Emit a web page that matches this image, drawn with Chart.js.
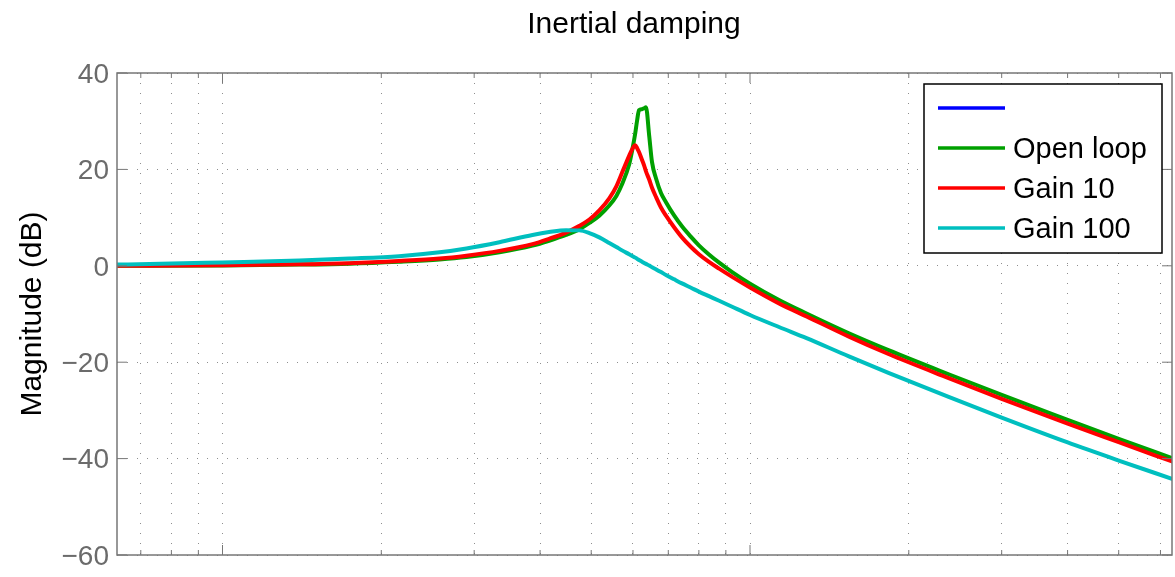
<!DOCTYPE html>
<html>
<head>
<meta charset="utf-8">
<script src="https://cdn.jsdelivr.net/npm/chart.js@4.4.1/dist/chart.umd.min.js"></script>
<style>
  html, body { margin: 0; padding: 0; background: #ffffff; }
  #wrap { width: 1175px; height: 577px; }
</style>
</head>
<body>
<div id="wrap"><canvas id="c" width="1175" height="577"></canvas></div>
<script>
// ---- data ----
const frequency = [0.631, 0.727, 1.0, 1.4, 1.74, 2.16, 2.58, 2.9, 3.35, 3.87,
  4.16, 4.48, 4.75, 4.96, 5.18, 5.41, 5.58, 5.72, 5.9, 5.98,
  6.06, 6.11, 6.16, 6.24, 6.3, 6.35, 6.44, 6.52, 6.64, 6.78,
  6.93, 7.18, 7.43, 7.73, 8.0, 8.36, 8.74, 9.25, 10, 11.35,
  12.8, 15.4, 18.3, 23.8, 30, 39.9, 50, 63.1];

const openLoop = [0.0, 0.0, 0.05, 0.25, 0.45, 0.85, 1.3, 1.8, 2.8, 4.2,
  5.2, 6.4, 7.6, 8.9, 10.4, 12.5, 14.5, 16.9, 21.0, 24.0,
  27.5, 30.2, 32.3, 32.5, 32.7, 32.9, 27.0, 21.5, 18.0, 15.1,
  13.2, 10.45, 8.2, 6.0, 4.25, 2.35, 0.65, -1.3, -3.7, -7.1,
  -9.9, -14.0, -17.5, -22.5, -26.8, -31.9, -35.9, -39.9];

const gain10 = [0.0, 0.0, 0.1, 0.3, 0.55, 1.0, 1.5, 2.1, 3.1, 4.5,
  5.6, 6.9, 8.3, 9.6, 11.5, 14.0, 16.5, 19.3, 22.8, 24.2,
  25.0, 24.4, 23.6, 22.0, 20.8, 19.6, 17.9, 16.2, 14.2, 12.1,
  10.4, 8.0, 5.9, 3.9, 2.4, 0.8, -0.6, -2.3, -4.5, -7.8,
  -10.5, -14.7, -18.3, -23.3, -27.6, -32.7, -36.6, -40.6];

const gain100 = [0.25, 0.35, 0.7, 1.1, 1.5, 2.0, 2.8, 3.6, 4.9, 6.4,
  7.0, 7.4, 7.35, 6.8, 5.9, 4.75, 3.9, 3.2, 2.4, 2.05,
  1.7, 1.45, 1.2, 0.85, 0.6, 0.4, 0.05, -0.3, -0.75, -1.3,
  -1.9, -2.8, -3.65, -4.55, -5.35, -6.3, -7.25, -8.5, -10.2, -12.7,
  -15.0, -18.8, -22.2, -27.2, -31.5, -36.6, -40.4, -44.2];

const blankSeries = [];   // first legend entry: blue line without label or visible data

const seriesLabels = ['', 'Open loop', 'Gain 10', 'Gain 100'];
const yTickValues = [-60, -40, -20, 0, 20, 40];
const xGridValues = [0.7, 0.8, 0.9, 1, 2, 3, 4, 5, 6, 7, 8, 9, 10, 20, 30, 40, 50, 60];
const xMajorValues = [1, 10];
const titleText = 'Inertial damping';
const yAxisTitle = 'Magnitude (dB)';

// ---- chart ----
const FONT = '"Liberation Sans", Arial, Helvetica, sans-serif';
const pts = (vals) => vals.map((v, i) => ({ x: frequency[i], y: v }));

const frame = {
  id: 'frame',
  afterDatasetsDraw(chart) {
    const { ctx, chartArea: a, scales } = chart;
    const x = scales.x, y = scales.y;
    ctx.save();
    ctx.strokeStyle = '#777777';
    ctx.lineWidth = 1;
    ctx.setLineDash([]);
    ctx.beginPath();
    for (const v of yTickValues) {
      const py = y.getPixelForValue(v);
      ctx.moveTo(a.left, py); ctx.lineTo(a.left + 10, py);
      ctx.moveTo(a.right, py); ctx.lineTo(a.right - 10, py);
    }
    for (const v of xGridValues) {
      const px = x.getPixelForValue(v);
      const len = xMajorValues.includes(v) ? 10 : 5;
      ctx.moveTo(px, a.bottom); ctx.lineTo(px, a.bottom - len);
      ctx.moveTo(px, a.top); ctx.lineTo(px, a.top + len);
    }
    ctx.stroke();
    ctx.lineWidth = 1.5;
    ctx.strokeRect(a.left, a.top, a.right - a.left, a.bottom - a.top);
    ctx.restore();
  },
  afterDraw(chart) {
    const { ctx, chartArea: a } = chart;
    ctx.save();
    // title
    ctx.fillStyle = '#000';
    ctx.font = '30px ' + FONT;
    ctx.textAlign = 'center';
    ctx.textBaseline = 'alphabetic';
    ctx.fillText(titleText, 634, 33);
    // y axis title
    ctx.save();
    ctx.translate(41, (a.top + a.bottom) / 2);
    ctx.rotate(-Math.PI / 2);
    ctx.fillText(yAxisTitle, 0, 0);
    ctx.restore();
    // legend box
    const L = { left: 924, top: 84, right: 1162, bottom: 253, x1: 938, x2: 1005, tx: 1013, y0: 108, step: 40 };
    ctx.fillStyle = '#fff';
    ctx.fillRect(L.left, L.top, L.right - L.left, L.bottom - L.top);
    ctx.strokeStyle = '#000';
    ctx.lineWidth = 1.5;
    ctx.strokeRect(L.left, L.top, L.right - L.left, L.bottom - L.top);
    ctx.font = '29px ' + FONT;
    ctx.textAlign = 'left';
    ctx.textBaseline = 'middle';
    chart.data.datasets.forEach((ds, i) => {
      const yy = L.y0 + i * L.step;
      ctx.strokeStyle = ds.borderColor;
      ctx.lineWidth = 3.5;
      ctx.beginPath(); ctx.moveTo(L.x1, yy); ctx.lineTo(L.x2, yy); ctx.stroke();
      ctx.fillStyle = '#000';
      ctx.fillText(ds.label, L.tx, yy + 2);
    });
    ctx.restore();
  }
};

const common = { fill: false, pointRadius: 0, borderWidth: 4, cubicInterpolationMode: 'monotone', borderCapStyle: 'round', borderJoinStyle: 'round' };

new Chart(document.getElementById('c'), {
  type: 'line',
  data: {
    datasets: [
      Object.assign({ label: seriesLabels[0], data: pts(blankSeries), borderColor: '#0000ff', order: 3 }, common),
      Object.assign({ label: seriesLabels[1], data: pts(openLoop), borderColor: '#00a000', order: 2 }, common),
      Object.assign({ label: seriesLabels[2], data: pts(gain10), borderColor: '#ff0000', order: 1 }, common),
      Object.assign({ label: seriesLabels[3], data: pts(gain100), borderColor: '#00bfbf', order: 0 }, common)
    ]
  },
  options: {
    responsive: false,
    animation: false,
    devicePixelRatio: 1,
    layout: { padding: { left: 0, top: 73, right: 3, bottom: 17 } },
    plugins: { legend: { display: false }, tooltip: { enabled: false }, title: { display: false } },
    scales: {
      x: {
        type: 'logarithmic',
        min: 0.630957,
        max: 63.0957,
        bounds: 'data',
        afterBuildTicks: (s) => { s.ticks = xGridValues.map(v => ({ value: v })); },
        afterFit: (s) => { s.height = 0; },
        ticks: { display: false },
        grid: { color: '#8f8f8f', lineWidth: 1, drawTicks: false },
        border: { display: false, dash: [1, 9] }
      },
      y: {
        type: 'linear',
        min: -60,
        max: 40,
        afterBuildTicks: (s) => { s.ticks = yTickValues.map(v => ({ value: v })); },
        afterFit: (s) => { s.width = 117; },
        ticks: {
          padding: 8,
          labelOffset: 2,
          color: '#6b6b6b',
          font: { family: FONT, size: 28, lineHeight: 1 },
          callback: (v) => (v < 0 ? '\u2212' + Math.abs(v) : String(v))
        },
        grid: { color: '#8f8f8f', lineWidth: 1, drawTicks: false },
        border: { display: false, dash: [1, 9] }
      }
    }
  },
  plugins: [frame]
});
</script>
</body>
</html>
